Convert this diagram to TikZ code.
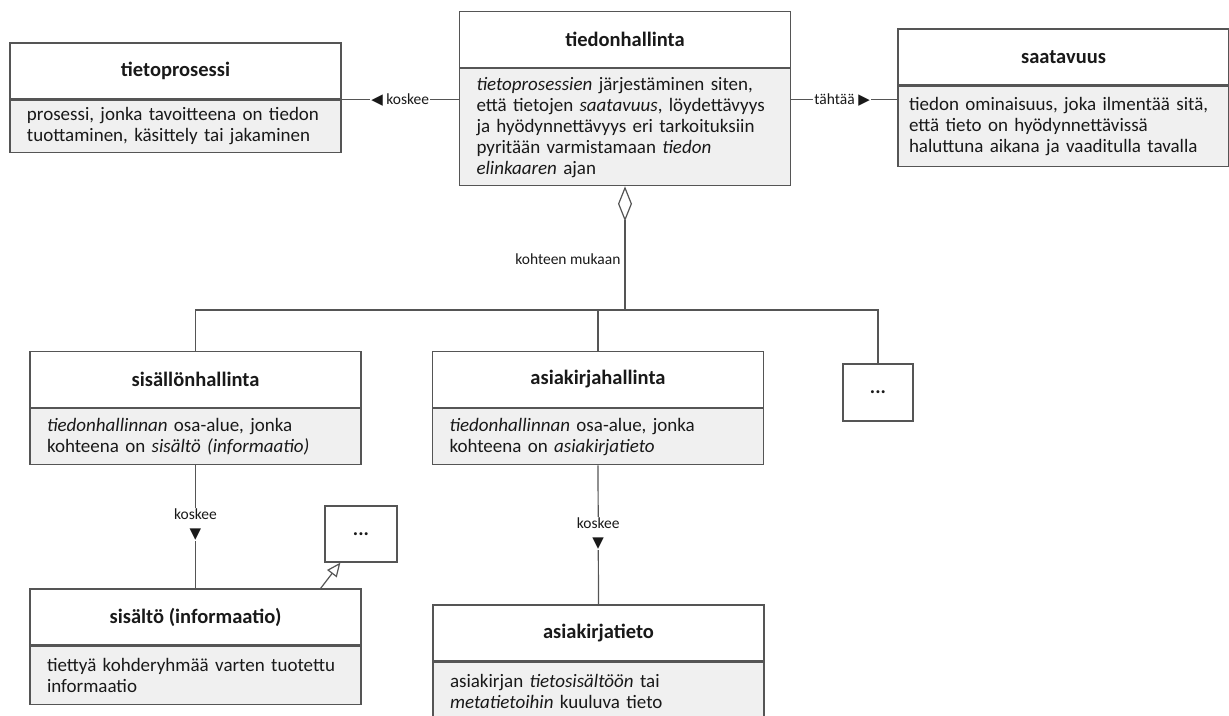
\documentclass[tikz,border=0pt]{standalone}
\usepackage{fontspec}
\setmainfont{Carlito}
\newfontfamily\symfont{DejaVu Sans}
\usetikzlibrary{positioning, arrows.meta}

\definecolor{linegray}{RGB}{85,85,85}
\definecolor{bodygray}{RGB}{240,240,240}
\definecolor{textgray}{RGB}{25,25,25}
\newcommand{\arrowsym}[1]{{\symfont\fontsize{15}{15}\selectfont #1}}

\begin{document}
\begin{tikzpicture}[x=1pt, y=1pt,
  head/.style = {draw=linegray, fill=white, line width=1.2pt, text=textgray,
    minimum width=331pt, minimum height=56pt,
    font=\fontsize{20.5}{24}\selectfont\bfseries},
  body/.style = {draw=linegray, fill=bodygray, line width=1.2pt, text=textgray,
    minimum width=331pt, text width=297pt, inner xsep=17pt, align=left,
    inner ysep=6pt, font=\fontsize{19}{21}\selectfont},
  more/.style = {draw=linegray, fill=white, line width=1.2pt, text=textgray,
    minimum width=71pt, minimum height=56pt,
    font=\fontsize{20}{24}\selectfont\bfseries},
  edge/.style = {draw=linegray, line width=1.2pt},
  lbl/.style = {fill=white, inner sep=1pt, text=textgray,
    font=\fontsize{15.5}{19}\selectfont},
  aggr/.style = {edge, {Diamond[open, length=35pt, width=14pt]}-},
  gen/.style = {edge, -{Triangle[open, length=14pt, width=12pt]}}]

  \useasboundingbox (0,0) rectangle (1229,-715);
  \clip (0,0) rectangle (1229,-715);

  % top row
  \node[head] (thh) at (625,-39.5) {tiedonhallinta};
  \node[body, minimum height=117pt, below=0pt of thh] (thb)
    {\textit{tietoprosessien} järjestäminen siten,\\
     että tietojen \textit{saatavuus}, löydettävyys\\
     ja hyödynnettävyys eri tarkoituksiin\\
     pyritään varmistamaan \textit{tiedon}\\
     \textit{elinkaaren} ajan};

  \node[head] (tph) at (175.5,-71) {tietoprosessi};
  \node[body, minimum height=52pt, below=0pt of tph] (tpb)
    {prosessi, jonka tavoitteena on tiedon\\
     tuottaminen, käsittely tai jakaminen};

  \node[head] (sah) at (1063.5,-57) {saatavuus};
  \node[body, minimum height=80pt, text width=309pt, inner xsep=11pt,
    below=0pt of sah] (sab)
    {tiedon ominaisuus, joka ilmentää sitä,\\
     että tieto on hyödynnettävissä\\
     haluttuna aikana ja vaaditulla tavalla};

  % middle row
  \node[head] (shh) at (195.5,-379.5) {sisällönhallinta};
  \node[body, minimum height=56pt, below=0pt of shh] (shb)
    {\textit{tiedonhallinnan} osa-alue, jonka\\
     kohteena on \textit{sisältö (informaatio)}};

  \node[head] (ahh) at (598,-379.5) {asiakirjahallinta};
  \node[body, minimum height=56pt, below=0pt of ahh] (ahb)
    {\textit{tiedonhallinnan} osa-alue, jonka\\
     kohteena on \textit{asiakirjatieto}};

  \node[more, minimum width=70pt, minimum height=57pt] (more1) at (878,-392.5) {...};

  % bottom row
  \node[head] (sih) at (195.5,-617) {sisältö (informaatio)};
  \node[body, minimum height=58pt, below=0pt of sih] (sib)
    {tiettyä kohderyhmää varten tuotettu\\
     informaatio};

  \node[more, minimum width=72pt] (more2) at (361,-534) {...};

  \node[head] (ath) at (598.5,-633) {asiakirjatieto};
  \node[body, minimum height=58pt, below=0pt of ath] (atb)
    {asiakirjan \textit{tietosisältöön} tai\\
     \textit{metatietoihin} kuuluva tieto};

  % connectors
  \draw[edge] (tph.south east) -- (tph.south east -| thb.west)
    node[lbl, pos=0.5] {\arrowsym{◀} koskee};
  \draw[edge] (tph.south east -| thb.east) -- (tph.south east -| sab.west)
    node[lbl, pos=0.48] {tähtää \arrowsym{▶}};

  \coordinate (hub) at (625,-310);
  \draw[aggr] (thb.south) -- (hub)
    node[pos=0.59, left, inner sep=4pt, text=textgray,
      font=\fontsize{15.5}{19}\selectfont] {kohteen mukaan};
  \draw[edge] (shh.north) |- (hub);
  \draw[edge] (ahh.north) |- (hub);
  \draw[edge] (more1.north) |- (hub);

  \draw[edge] (shb.south) -- (sih.north)
    node[lbl, pos=0.48, align=center] {koskee\\\arrowsym{▼}};
  \draw[edge] (ahb.south) -- (ath.north)
    node[lbl, pos=0.49, align=center] {koskee\\\arrowsym{▼}};

  \draw[gen] ([xshift=-41pt]sih.north east) -- ([xshift=16pt]more2.south west);
\end{tikzpicture}
\end{document}
